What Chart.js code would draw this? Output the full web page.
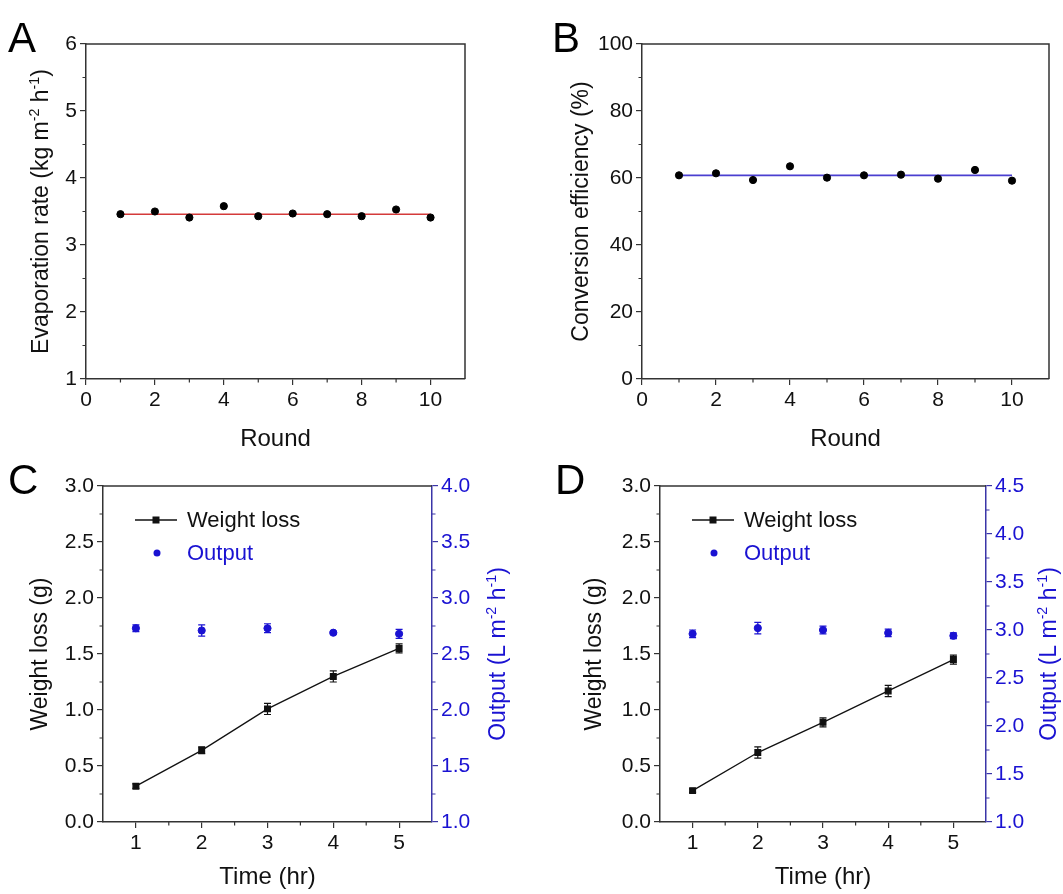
<!DOCTYPE html>
<html>
<head>
<meta charset="utf-8">
<script src="https://cdn.jsdelivr.net/npm/chart.js@4.4.1/dist/chart.umd.min.js"></script>
<style>
  html, body { margin: 0; padding: 0; background: #fff; }
  #wrap { position: relative; width: 1063px; height: 894px; }
  canvas { position: absolute; }
</style>
</head>
<body>
<div id="wrap">
  <canvas id="panelA" width="531" height="447" style="left:0;top:0"></canvas>
  <canvas id="panelB" width="532" height="447" style="left:531px;top:0"></canvas>
  <canvas id="panelC" width="531" height="447" style="left:0;top:447px"></canvas>
  <canvas id="panelD" width="532" height="447" style="left:531px;top:447px"></canvas>
</div>
<script>
// ---- data ----
const rounds = [1, 2, 3, 4, 5, 6, 7, 8, 9, 10];
const evapRate = [3.46, 3.50, 3.41, 3.58, 3.43, 3.47, 3.46, 3.43, 3.53, 3.41];
const evapMean = 3.46;
const convEff = [60.8, 61.4, 59.4, 63.5, 60.1, 60.8, 61.0, 59.8, 62.4, 59.2];
const convMean = 60.8;

const timeHr = [1, 2, 3, 4, 5];
const lossC = [0.32, 0.64, 1.01, 1.30, 1.55];
const lossErrC = [0.02, 0.03, 0.05, 0.05, 0.04];
const outC = [2.73, 2.71, 2.73, 2.69, 2.68];
const outErrC = [0.03, 0.05, 0.04, 0.01, 0.04];
const lossD = [0.28, 0.62, 0.89, 1.17, 1.45];
const lossErrD = [0.015, 0.05, 0.04, 0.05, 0.04];
const outD = [2.96, 3.02, 3.00, 2.97, 2.94];
const outErrD = [0.04, 0.06, 0.04, 0.04, 0.03];

// tick labels
const ticksRound = [0, 2, 4, 6, 8, 10];
const ticksEvap = [1, 2, 3, 4, 5, 6];
const ticksConv = [0, 20, 40, 60, 80, 100];
const ticksTime = [1, 2, 3, 4, 5];
const ticksLoss = [0, 0.5, 1, 1.5, 2, 2.5, 3];
const ticksOutC = [1, 1.5, 2, 2.5, 3, 3.5, 4];
const ticksOutD = [1, 1.5, 2, 2.5, 3, 3.5, 4, 4.5];

const FONT = "'Liberation Sans', Arial, sans-serif";
const AXIS = '#333333';
const BLUE = '#1a12d2';
const BLUE_AXIS = '#3a35a8';

let pts = (xs, ys) => xs.map((x, i) => ({ x: x, y: ys[i] }));
let mids = (arr) => arr.slice(1).map((v, i) => (v + arr[i]) / 2);

// error bars, minor ticks, frame, titles, legend, panel letter
const decoPlugin = {
  id: 'deco',
  afterDatasetsDraw(chart) {
    const ctx = chart.ctx;
    chart.data.datasets.forEach((ds, i) => {
      if (!ds.errors) return;
      const meta = chart.getDatasetMeta(i);
      const ys = chart.scales[ds.yAxisID || 'y'];
      ctx.save();
      ctx.strokeStyle = ds.borderColor;
      ctx.lineWidth = 1.2;
      meta.data.forEach((p, j) => {
        const v = ds.data[j].y, e = ds.errors[j];
        const y1 = ys.getPixelForValue(v + e), y2 = ys.getPixelForValue(v - e);
        ctx.beginPath();
        ctx.moveTo(p.x, y1); ctx.lineTo(p.x, y2);
        ctx.moveTo(p.x - 3.5, y1); ctx.lineTo(p.x + 3.5, y1);
        ctx.moveTo(p.x - 3.5, y2); ctx.lineTo(p.x + 3.5, y2);
        ctx.stroke();
      });
      ctx.restore();
    });
  },
  afterDraw(chart, args, opts) {
    const ctx = chart.ctx;
    const a = chart.chartArea;
    ctx.save();
    // frame
    ctx.lineWidth = 1.5;
    ctx.strokeStyle = AXIS;
    ctx.beginPath();
    ctx.moveTo(a.left, a.top); ctx.lineTo(a.right, a.top);
    if (!opts.rightAxis) { ctx.lineTo(a.right, a.bottom); }
    ctx.stroke();
    // minor ticks
    (opts.minor || []).forEach(m => {
      const sc = chart.scales[m.axis];
      ctx.strokeStyle = m.color || AXIS;
      ctx.lineWidth = 1.2;
      ctx.beginPath();
      m.values.forEach(v => {
        const px = sc.getPixelForValue(v);
        if (m.axis === 'x') { ctx.moveTo(px, a.bottom); ctx.lineTo(px, a.bottom + 3.5); }
        else if (m.axis === 'y') { ctx.moveTo(a.left, px); ctx.lineTo(a.left - 3.5, px); }
        else { ctx.moveTo(a.right, px); ctx.lineTo(a.right + 3.5, px); }
      });
      ctx.stroke();
    });
    // titles
    (opts.titles || []).forEach(t => {
      let x, y, rot = 0;
      if (t.side === 'bottom') { x = (a.left + a.right) / 2; y = a.bottom + t.off; }
      else if (t.side === 'left') { x = a.left - t.off; y = (a.top + a.bottom) / 2; rot = -Math.PI / 2; }
      else { x = a.right + t.off; y = (a.top + a.bottom) / 2; rot = -Math.PI / 2; }
      drawRich(ctx, t.parts, x, y, rot, t.size || 23, t.color || '#111');
    });
    // legend
    if (opts.legend) {
      const lx = a.left;
      opts.legend.forEach((it, k) => {
        const y = a.top + 34 + k * 33;
        const ds = chart.data.datasets[it.dataset];
        ctx.fillStyle = ds.borderColor;
        ctx.strokeStyle = ds.borderColor;
        if (it.kind === 'line') {
          ctx.lineWidth = 1.3;
          ctx.beginPath(); ctx.moveTo(lx + 32, y); ctx.lineTo(lx + 74, y); ctx.stroke();
          ctx.fillRect(lx + 53 - 3.5, y - 3.5, 7, 7);
        } else {
          ctx.beginPath(); ctx.arc(lx + 54, y, 3.5, 0, Math.PI * 2); ctx.fill();
        }
        ctx.font = '22px ' + FONT;
        ctx.fillStyle = it.color;
        ctx.textBaseline = 'middle';
        ctx.textAlign = 'left';
        ctx.fillText(ds.label, lx + 84, y + 1);
      });
    }
    // panel letter
    ctx.font = '42px ' + FONT;
    ctx.fillStyle = '#000';
    ctx.textAlign = 'left';
    ctx.textBaseline = 'alphabetic';
    ctx.fillText(opts.letter, opts.letterX, opts.letterY);
    ctx.restore();
  }
};

function drawRich(ctx, parts, x, y, rot, size, color) {
  ctx.save();
  ctx.translate(x, y);
  ctx.rotate(rot);
  ctx.fillStyle = color;
  ctx.textBaseline = 'alphabetic';
  ctx.textAlign = 'left';
  let total = 0;
  parts.forEach(p => {
    ctx.font = (p.sup ? size * 0.62 : size) + 'px ' + FONT;
    total += ctx.measureText(p.t).width;
  });
  let cx = -total / 2;
  parts.forEach(p => {
    ctx.font = (p.sup ? size * 0.62 : size) + 'px ' + FONT;
    ctx.fillText(p.t, cx, size * 0.36 - (p.sup ? size * 0.42 : 0));
    cx += ctx.measureText(p.t).width;
  });
  ctx.restore();
}

function axis(min, max, tickVals, fmt, fitKey, fitVal, color, borderColor) {
  return {
    type: 'linear',
    min: min,
    max: max,
    afterBuildTicks: (s) => { s.ticks = tickVals.map(v => ({ value: v })); },
    afterFit: (s) => { s[fitKey] = fitVal; },
    grid: { drawOnChartArea: false, drawTicks: true, tickLength: 6, color: borderColor || AXIS, lineWidth: 1.2 },
    border: { display: true, color: borderColor || AXIS, width: 1.5 },
    ticks: {
      autoSkip: false, maxRotation: 0, padding: 3,
      color: color || '#111',
      font: { family: FONT, size: 21 },
      callback: fmt
    }
  };
}

let plain = (v) => String(v);
let oneDec = (v) => v.toFixed(1);

function baseOptions(padTop, padRight, deco, scales) {
  return {
    responsive: false,
    animation: false,
    devicePixelRatio: 1,
    layout: { padding: { top: padTop, right: padRight, left: 0, bottom: 0 } },
    plugins: { legend: { display: false }, tooltip: { enabled: false }, deco: deco },
    scales: scales
  };
}

// ---- Panel A ----
new Chart(document.getElementById('panelA'), {
  type: 'scatter',
  data: {
    datasets: [
      { label: 'Fit', type: 'line', data: pts([rounds[0], rounds[rounds.length - 1]], [evapMean, evapMean]),
        borderColor: '#d43a3a', borderWidth: 1.6, pointRadius: 0, order: 2 },
      { label: 'Evaporation rate', data: pts(rounds, evapRate), backgroundColor: '#000', borderColor: '#000',
        pointRadius: 3.6, order: 1 }
    ]
  },
  options: baseOptions(44, 66, {
    letter: 'A', letterX: 8, letterY: 52,
    minor: [{ axis: 'x', values: mids(ticksRound) }, { axis: 'y', values: mids(ticksEvap) }],
    titles: [
      { side: 'bottom', off: 58, size: 24, parts: [{ t: 'Round' }] },
      { side: 'left', off: 46, parts: [{ t: 'Evaporation rate (kg m' }, { t: '-2', sup: true }, { t: ' h' }, { t: '-1', sup: true }, { t: ')' }] }
    ]
  }, {
    x: axis(0, 11, ticksRound, plain, 'height', 68),
    y: axis(1, 6, ticksEvap, plain, 'width', 86)
  }),
  plugins: [decoPlugin]
});

// ---- Panel B ----
new Chart(document.getElementById('panelB'), {
  type: 'scatter',
  data: {
    datasets: [
      { label: 'Fit', type: 'line', data: pts([rounds[0], rounds[rounds.length - 1]], [convMean, convMean]),
        borderColor: '#4a3fd0', borderWidth: 1.8, pointRadius: 0, order: 2 },
      { label: 'Conversion efficiency', data: pts(rounds, convEff), backgroundColor: '#000', borderColor: '#000',
        pointRadius: 3.6, order: 1 }
    ]
  },
  options: baseOptions(44, 14, {
    letter: 'B', letterX: 21, letterY: 52,
    minor: [{ axis: 'x', values: mids(ticksRound) }, { axis: 'y', values: mids(ticksConv) }],
    titles: [
      { side: 'bottom', off: 58, size: 24, parts: [{ t: 'Round' }] },
      { side: 'left', off: 62, parts: [{ t: 'Conversion efficiency (%)' }] }
    ]
  }, {
    x: axis(0, 11, ticksRound, plain, 'height', 68),
    y: axis(0, 100, ticksConv, plain, 'width', 111)
  }),
  plugins: [decoPlugin]
});

// ---- Panels C and D ----
function dualPanel(id, letterX, loss, lossErr, out, outErr, outTicks, outMax, leftW, rightW, leftOff, rightOff) {
  new Chart(document.getElementById(id), {
    type: 'scatter',
    data: {
      datasets: [
        { label: 'Weight loss', type: 'line', data: pts(timeHr, loss), errors: lossErr,
          borderColor: '#111', backgroundColor: '#111', borderWidth: 1.3,
          pointStyle: 'rect', pointRadius: 4, yAxisID: 'y' },
        { label: 'Output', data: pts(timeHr, out), errors: outErr,
          borderColor: BLUE, backgroundColor: BLUE, pointRadius: 3.6, yAxisID: 'y1' }
      ]
    },
    options: baseOptions(39, 0, {
      letter: id === 'panelC' ? 'C' : 'D', letterX: letterX, letterY: 47,
      rightAxis: true,
      minor: [
        { axis: 'x', values: mids(ticksTime) },
        { axis: 'y', values: mids(ticksLoss) },
        { axis: 'y1', values: mids(outTicks), color: BLUE_AXIS }
      ],
      titles: [
        { side: 'bottom', off: 53, size: 24, parts: [{ t: 'Time (hr)' }] },
        { side: 'left', off: leftOff, parts: [{ t: 'Weight loss (g)' }] },
        { side: 'right', off: rightOff, color: BLUE,
          parts: [{ t: 'Output (L m' }, { t: '-2', sup: true }, { t: ' h' }, { t: '-1', sup: true }, { t: ')' }] }
      ],
      legend: [
        { dataset: 0, kind: 'line', color: '#111' },
        { dataset: 1, kind: 'dot', color: BLUE }
      ]
    }, {
      x: axis(0.5, 5.5, ticksTime, plain, 'height', 72),
      y: axis(0, 3, ticksLoss, oneDec, 'width', leftW),
      y1: Object.assign(axis(1, outMax, outTicks, oneDec, 'width', rightW, BLUE, BLUE_AXIS), { position: 'right' })
    }),
    plugins: [decoPlugin]
  });
}

dualPanel('panelC', 8, lossC, lossErrC, outC, outErrC, ticksOutC, 4, 103, 99, 64, 65);
dualPanel('panelD', 24, lossD, lossErrD, outD, outErrD, ticksOutD, 4.5, 129, 77, 67, 62);
</script>
</body>
</html>
